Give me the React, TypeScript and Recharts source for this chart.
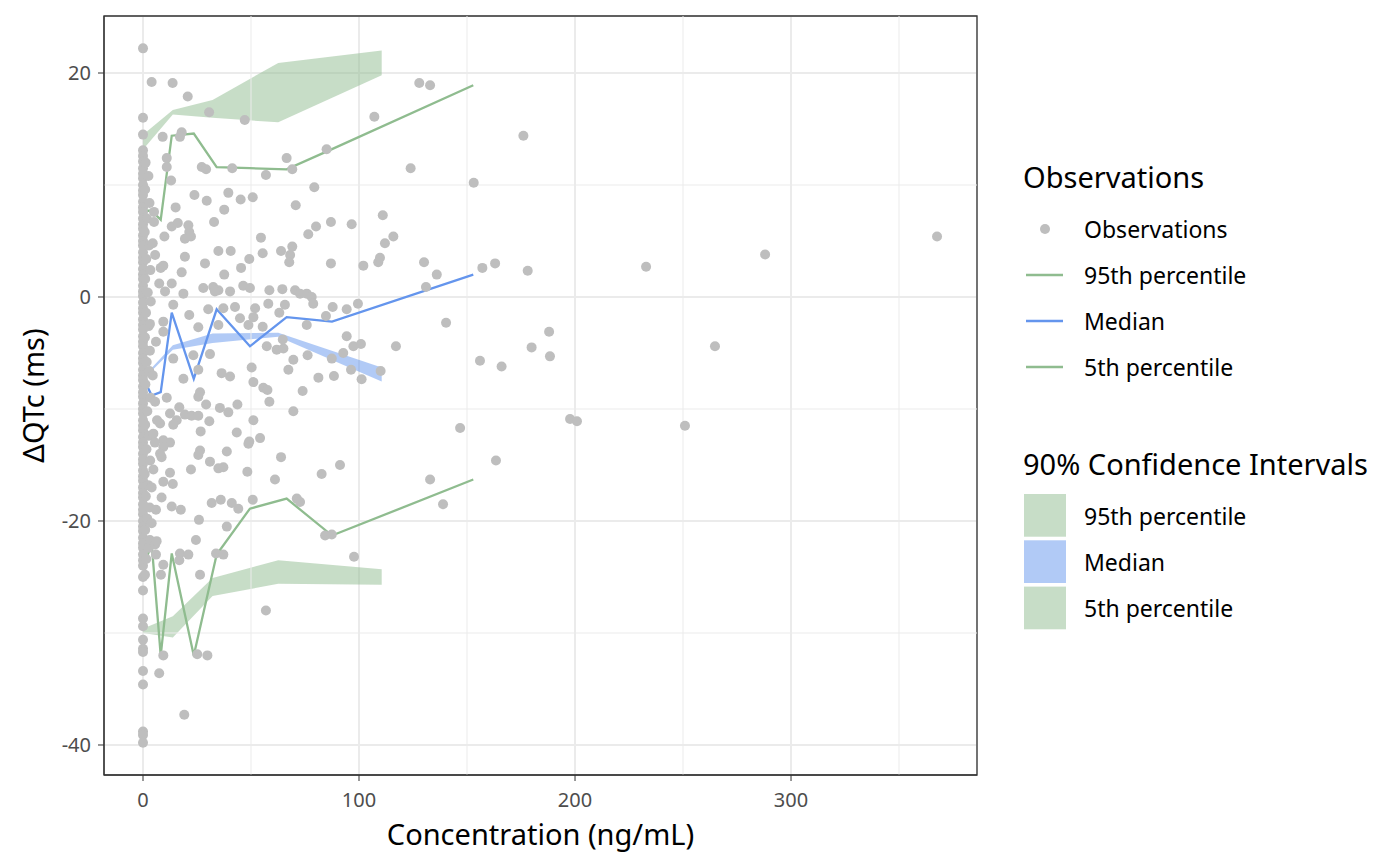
import React from 'react';
import {
  ComposedChart,
  XAxis,
  YAxis,
  CartesianGrid,
  Scatter,
  Line,
  Area,
  ReferenceLine,
  ReferenceArea,
} from 'recharts';

// ---------- axes ----------
const xDomain = [-18.06, 386.1];
const yDomain = [-42.68, 25.09];
const xTicks = [0, 100, 200, 300];
const yTicks = [-40, -20, 0, 20];
const xMinor = [50, 150, 250, 350];
const yMinor = [-30, -10, 10];

// ---------- observations ----------
// dense column of subjects at (near) zero concentration
const zeroConcDQTc = [
  22.2, 16.0, 14.5, 13.1, 12.6, 12.1, 11.5, 11.0, 10.6, 10.0, 9.5, 9.1, 8.5, 8.0, 7.6,
  7.0, 6.5, 6.1, 5.5, 5.0, 4.6, 4.0, 3.5, 3.1, 2.5, 2.0, 1.6, 1.0, 0.5, 0.1, -0.5,
  -1.0, -1.4, -2.0, -2.5, -2.9, -3.5, -4.0, -4.4, -5.0, -5.5, -5.9, -6.5, -7.0, -7.4,
  -8.0, -8.5, -8.9, -9.5, -10.0, -10.4, -11.0, -11.5, -11.9, -12.5, -13.0, -13.4,
  -14.0, -14.5, -14.9, -15.5, -16.0, -16.4, -17.0, -17.5, -17.9, -18.5, -19.0, -19.4,
  -20.0, -20.5, -20.9, -21.5, -22.0, -22.4, -23.0, -23.5, -24.0, -25.0, -26.2, -28.7,
  -29.4, -30.6, -31.4, -31.7, -33.4, -34.6, -38.8, -39.1, -39.8,
];

const obsConc = [
  1.2, 2.5, 1.0, 3.0, 1.8, 0.8, 2.8, 1.5, 3.4, 1.0, 2.2, 3.6, 1.4, 2.6, 0.9, 3.2, 1.7,
  2.9, 1.1, 3.5, 2.0, 1.0, 2.7, 1.6, 3.3, 0.8, 2.4, 1.3, 3.1, 2.0, 1.0, 2.6, 1.5, 0.9,
  4.0, 13.7, 20.7, 30.6, 47.1, 107.1, 9.1, 17.9, 17.1, 85.0, 66.5, 11.0, 11.0, 27.2,
  29.2, 41.3, 69.1, 56.9, 13.0, 79.3, 23.8, 39.5, 29.5, 45.2, 50.8, 70.7, 5.1, 15.1,
  37.6, 111.0, 5.1, 32.9, 13.3, 16.1, 21.0, 21.4, 80.1, 87.0, 96.6, 9.9, 19.4, 22.2,
  54.6, 76.5, 112.0, 4.5, 5.6, 19.4, 34.9, 40.6, 55.4, 63.9, 69.1, 68.1, 67.7, 49.2,
  45.4, 28.7, 87.0, 102.0, 108.9, 109.7, 8.2, 9.4, 17.9, 37.6, 7.5, 13.3, 27.9, 32.5,
  34.9, 40.3, 46.4, 49.5, 58.5, 64.5, 70.4, 72.7,
  127.9, 132.9, 176.1, 123.9, 153.1, 115.9, 130.1, 136.0, 131.0, 157.1, 163.0, 178.1,
  288.0, 232.9, 367.6,
  10.2, 18.7, 33.3, 75.8, 78.1, 78.8, 14.0, 30.2, 37.2, 42.6, 51.9, 58.0, 65.7, 87.8,
  94.3, 99.5, 9.4, 21.4, 25.6, 34.9, 44.9, 48.8, 51.1, 55.4, 63.1, 75.8, 84.7, 9.4,
  94.3, 97.4, 100.9, 57.3, 61.9, 65.0, 64.7, 76.2, 87.4, 92.7, 14.0, 23.3, 31.0, 25.6,
  69.6, 67.3, 50.3, 18.7, 36.4, 40.3, 51.1, 81.2, 88.4, 96.3, 101.2, 110.0, 55.7, 57.6,
  73.9, 58.5, 26.4, 25.6, 11.0, 5.6, 43.7, 35.6, 29.2, 16.8, 39.5, 12.5, 19.4, 22.5,
  25.6, 69.6, 15.6, 30.7, 14.0, 51.1, 7.9, 4.8, 26.7, 43.4, 9.4, 12.5, 49.2, 54.2, 48.8,
  9.4, 7.9, 26.4, 38.8, 25.6, 8.6, 63.9, 31.0, 34.9, 37.2, 22.2, 4.8, 12.5, 48.3, 82.7,
  91.2, 61.1, 9.4, 13.8, 8.6, 31.8, 36.0, 41.1, 44.1, 50.8, 71.2, 72.7, 13.3, 17.5, 25.9,
  38.8, 84.3, 87.4, 24.5, 3.2, 5.6,
  140.3, 117.1, 156.0, 166.0, 179.9, 188.0, 188.4, 197.7, 200.9, 264.8, 250.9, 146.8,
  163.4, 132.9, 138.9, 97.7,
  4.0, 6.3, 6.0, 17.1, 21.0, 16.8, 33.8, 37.2, 9.4, 8.3, 26.4, 56.9, 9.4, 25.1, 29.8,
  7.5, 19.1, 3.2, 6.0, 4.5, 6.5, 5.5, 4.0, 6.0,
];

const obsDQTc = [
  12.0, 10.8, 9.6, 8.4, 7.0, 5.8, 4.6, 3.4, 2.4, 1.6, 0.4, -0.4, -1.4, -2.6, -3.6, -4.8,
  -5.8, -6.6, -7.8, -9.0, -10.2, -11.4, -12.4, -13.6, -14.6, -15.8, -16.8, -17.8, -18.8,
  -19.8, -20.8, -22.4, -23.4, -24.8,
  19.2, 19.1, 17.9, 16.5, 15.8, 16.1, 14.3, 14.7, 14.3, 13.2, 12.4, 12.4, 11.6, 11.6,
  11.4, 11.5, 11.4, 10.9, 10.4, 9.8, 9.1, 9.3, 8.6, 8.7, 8.9, 8.2, 7.6, 8.0, 7.8, 7.3,
  6.7, 6.7, 6.3, 6.6, 6.4, 5.8, 6.3, 6.7, 6.5, 5.4, 5.2, 5.4, 5.3, 5.6, 4.8, 4.8, 3.75,
  3.6, 4.1, 4.1, 3.9, 4.1, 4.5, 3.75, 3.1, 3.4, 2.6, 3.0, 3.0, 2.8, 3.1, 3.5, 2.6, 2.8,
  2.2, 2.0, 1.2, 1.2, 0.8, 0.9, 0.6, 0.5, 1.0, 0.8, 0.6, 0.7, 0.6, 0.3,
  19.1, 18.9, 14.4, 11.5, 10.2, 5.4, 3.1, 2.0, 0.9, 2.6, 3.0, 2.35, 3.8, 2.7, 5.4,
  0.5, 0.3, 0.5, 0.3, 0.0, -0.6, -0.7, -1.1, -1.0, -0.9, -1.0, -0.6, -0.7, -0.9, -1.1,
  -0.6, -2.2, -1.6, -2.7, -2.5, -1.9, -2.5, -1.8, -2.65, -1.4, -2.5, -1.7, -3.1, -3.5,
  -4.4, -4.2, -4.4, -4.7, -4.6, -3.8, -5.2, -5.5, -5.0, -5.5, -5.2, -5.1, -6.5, -5.6,
  -6.5, -6.3, -7.3, -6.8, -7.1, -7.6, -7.2, -7.05, -6.5, -7.35, -6.6, -8.1, -8.3, -8.4,
  -9.35, -8.5, -8.9, -9.0, -9.35, -9.6, -9.9, -9.6, -9.85, -10.3, -10.4, -10.5, -10.6,
  -10.6, -10.2, -11.0, -11.1, -11.4, -11.0, -11.3, -12.2, -12.0, -12.1, -12.8, -13.0,
  -12.9, -12.6, -13.1, -13.4, -14.0, -13.7, -13.8, -14.1, -14.3, -14.3, -14.7, -15.3,
  -15.2, -15.4, -15.4, -15.7, -15.6, -15.8, -15.0, -16.3, -16.5, -16.7, -17.9, -18.4,
  -18.1, -18.4, -18.9, -18.1, -18.0, -18.3, -18.7, -19.0, -19.9, -20.5, -21.3, -21.2,
  -21.7, -21.7, -22.1,
  -2.3, -4.4, -5.7, -6.2, -4.5, -3.1, -5.3, -10.9, -11.1, -4.4, -11.5, -11.7, -14.6,
  -16.3, -18.5, -23.2,
  -20.2, -21.8, -23.0, -22.9, -23.0, -23.5, -22.9, -23.0, -23.9, -24.8, -24.8, -28.0,
  -32.0, -31.9, -32.0, -33.6, -37.3, -2.4, -4.0, -7.0, -11.0, -13.0, -17.0, -19.0,
];

// ---------- binned percentiles (lines) ----------
const binConc = [0.1, 4.0, 8.2, 13.3, 23.5, 34.1, 49.5, 66.5, 87.5, 152.9];
const p95Line = [7.7, 7.7, 6.9, 14.4, 14.6, 11.6, 11.5, 11.4, 13.2, 18.9];
const medianLine = [-7.2, -8.8, -8.5, -1.4, -7.3, -1.1, -4.4, -1.8, -2.2, 2.0];
const p5Line = [-24.2, -22.0, -32.0, -22.9, -32.0, -23.0, -18.9, -18.0, -21.3, -16.3];

// ---------- 90% confidence intervals (ribbons) ----------
const ciConc = [0.1, 13.8, 32.2, 62.6, 110.5];
const p95Lo = [13.2, 16.3, 16.0, 15.6, 19.8];
const p95Hi = [14.5, 16.7, 17.6, 20.9, 22.0];
const medLo = [-7.35, -4.7, -4.1, -3.55, -7.55];
const medHi = [-7.15, -4.3, -3.25, -3.2, -6.3];
const p5Lo = [-30.0, -30.4, -26.7, -25.6, -25.7];
const p5Hi = [-29.6, -28.5, -25.1, -23.5, -24.3];

// ---------- colours ----------
const GREEN = '#8FBC8F';
const BLUE = '#6495ED';
const GREY = '#BEBEBE';
const GREEN_FILL = '#C7DDC7';
const BLUE_FILL = '#B1CAF6';

const points = [
  ...zeroConcDQTc.map((y) => ({ x: 0, y })),
  ...obsConc.map((x, i) => ({ x, y: obsDQTc[i] })),
];

const lineData = (ys: number[]) => binConc.map((x, i) => ({ x, y: ys[i] }));
const ribbonData = (lo: number[], hi: number[]) =>
  ciConc.map((x, i) => ({ x, y: [lo[i], hi[i]] }));

const FONT = '"Noto Sans", "Open Sans", sans-serif';
const TITLE_SIZE = 29;
const ITEM_SIZE = 23;
const LINE_W = 2.3;

const XLabel = (props: any) => {
  const vb = props.viewBox;
  return (
    <text
      x={vb.x + vb.width / 2}
      y={vb.y + 58}
      textAnchor="middle"
      dominantBaseline="central"
      fontSize={TITLE_SIZE}
      fontFamily={FONT}
      fill="#000"
    >
      Concentration (ng/mL)
    </text>
  );
};

const YLabel = (props: any) => {
  const vb = props.viewBox;
  const cx = vb.x + 24;
  const cy = vb.y + vb.height / 2;
  return (
    <text
      x={cx}
      y={cy}
      transform={`rotate(-90, ${cx}, ${cy})`}
      textAnchor="middle"
      dominantBaseline="central"
      fontSize={TITLE_SIZE}
      fontFamily={FONT}
      fill="#000"
    >
      ΔQTc (ms)
    </text>
  );
};

const Dot = (p: any) => <circle cx={p.cx} cy={p.cy} r={5} fill={GREY} />;

const legendLines = [
  { label: '95th percentile', color: GREEN },
  { label: 'Median', color: BLUE },
  { label: '5th percentile', color: GREEN },
];
const legendFills = [
  { label: '95th percentile', color: GREEN_FILL },
  { label: 'Median', color: BLUE_FILL },
  { label: '5th percentile', color: GREEN_FILL },
];

const Legend = () => (
  <svg
    width={392}
    height={858}
    style={{ position: 'absolute', left: 1000, top: 0 }}
    fontFamily={FONT}
  >
    <text x={15} y={180} fontSize={TITLE_SIZE} fill="#000">
      Observations
    </text>
    <circle cx={37} cy={221} r={5} fill={GREY} />
    <text x={76} y={221} fontSize={ITEM_SIZE} dominantBaseline="central" fill="#000">
      Observations
    </text>
    {legendLines.map((d, i) => (
      <g key={i}>
        <line x1={18} x2={55} y1={267 + i * 46} y2={267 + i * 46} stroke={d.color} strokeWidth={LINE_W} />
        <text x={76} y={267 + i * 46} fontSize={ITEM_SIZE} dominantBaseline="central" fill="#000">
          {d.label}
        </text>
      </g>
    ))}
    <text x={15} y={467} fontSize={TITLE_SIZE} fill="#000">
      90% Confidence Intervals
    </text>
    {legendFills.map((d, i) => (
      <g key={i}>
        <rect x={16} y={486 + i * 46.3} width={42} height={42.7} fill={d.color} />
        <text x={76} y={507.5 + i * 46} fontSize={ITEM_SIZE} dominantBaseline="central" fill="#000">
          {d.label}
        </text>
      </g>
    ))}
  </svg>
);

export default function App() {
  const tickStyle = { fill: '#4D4D4D', fontSize: 20, fontFamily: FONT };
  return (
    <div style={{ position: 'relative', width: 1392, height: 858, fontFamily: FONT }}>
      <ComposedChart
        width={1000}
        height={858}
        margin={{ top: 8, right: 31, bottom: 0, left: 0 }}
      >
        <CartesianGrid stroke="#EBEBEB" strokeWidth={2} />
        {xMinor.map((v) => (
          <ReferenceLine key={'xm' + v} x={v} stroke="#EBEBEB" strokeWidth={1} />
        ))}
        {yMinor.map((v) => (
          <ReferenceLine key={'ym' + v} y={v} stroke="#EBEBEB" strokeWidth={1} />
        ))}
        <XAxis
          type="number"
          dataKey="x"
          domain={xDomain}
          ticks={xTicks}
          allowDataOverflow
          height={91}
          tickSize={6}
          tickMargin={12}
          tick={tickStyle}
          tickLine={{ stroke: '#333333' }}
          axisLine={{ stroke: '#333333' }}
          label={{ content: XLabel }}
        />
        <YAxis
          type="number"
          dataKey="y"
          domain={yDomain}
          ticks={yTicks}
          allowDataOverflow
          width={96}
          tickSize={6}
          tickMargin={7}
          tick={tickStyle}
          tickLine={{ stroke: '#333333' }}
          axisLine={{ stroke: '#333333' }}
          label={{ content: YLabel }}
        />
        <Scatter data={points} shape={Dot} isAnimationActive={false} />
        <Area
          data={ribbonData(p95Lo, p95Hi)}
          dataKey="y"
          type="linear"
          stroke="none"
          fill={GREEN}
          fillOpacity={0.5}
          isAnimationActive={false}
          dot={false}
          activeDot={false}
        />
        <Area
          data={ribbonData(medLo, medHi)}
          dataKey="y"
          type="linear"
          stroke="none"
          fill={BLUE}
          fillOpacity={0.5}
          isAnimationActive={false}
          dot={false}
          activeDot={false}
        />
        <Area
          data={ribbonData(p5Lo, p5Hi)}
          dataKey="y"
          type="linear"
          stroke="none"
          fill={GREEN}
          fillOpacity={0.5}
          isAnimationActive={false}
          dot={false}
          activeDot={false}
        />
        <Line
          data={lineData(p95Line)}
          dataKey="y"
          type="linear"
          stroke={GREEN}
          strokeWidth={LINE_W}
          dot={false}
          activeDot={false}
          isAnimationActive={false}
        />
        <Line
          data={lineData(medianLine)}
          dataKey="y"
          type="linear"
          stroke={BLUE}
          strokeWidth={LINE_W}
          dot={false}
          activeDot={false}
          isAnimationActive={false}
        />
        <Line
          data={lineData(p5Line)}
          dataKey="y"
          type="linear"
          stroke={GREEN}
          strokeWidth={LINE_W}
          dot={false}
          activeDot={false}
          isAnimationActive={false}
        />
        <ReferenceArea
          x1={xDomain[0]}
          x2={xDomain[1]}
          y1={yDomain[0]}
          y2={yDomain[1]}
          fill="none"
          stroke="#333333"
          strokeWidth={1.3}
          ifOverflow="visible"
        />
      </ComposedChart>
      <Legend />
    </div>
  );
}
